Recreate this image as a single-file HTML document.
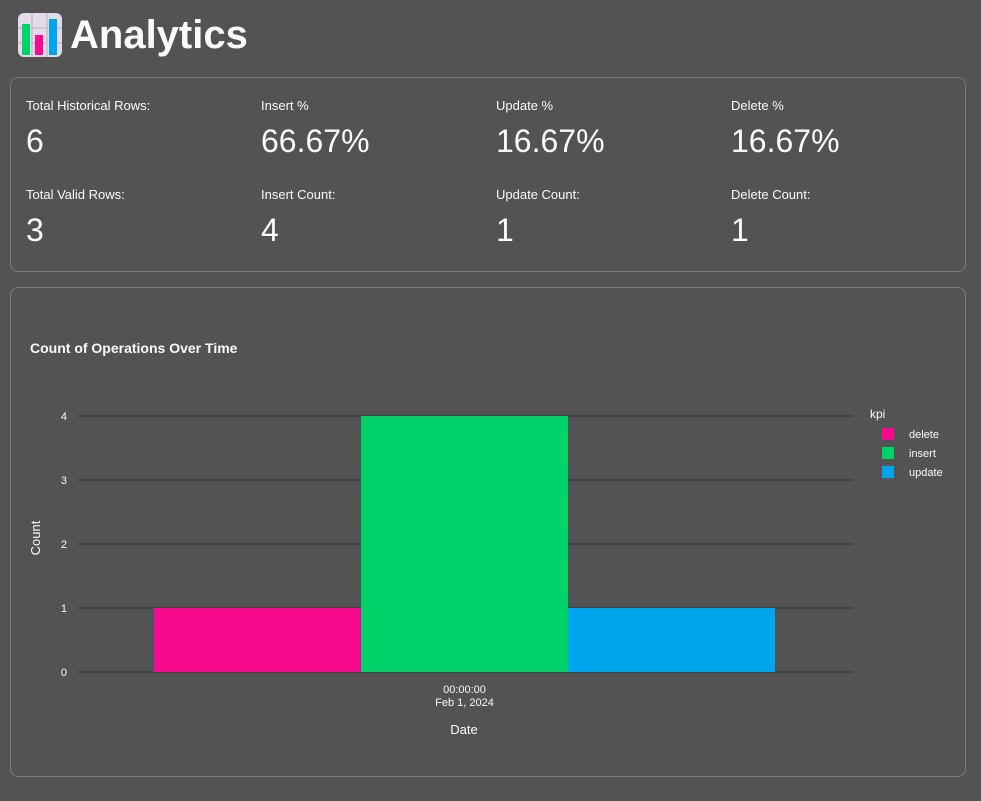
<!DOCTYPE html>
<html><head><meta charset="utf-8"><style>
body{margin:0;width:981px;height:801px;background:#535353;font-family:"Liberation Sans",sans-serif;color:#fafafa;position:relative;overflow:hidden}
.card{position:absolute;left:10px;width:954px;border:1px solid #7a7a7a;border-radius:8px}
.lbl{position:absolute;font-size:13px}
.val{position:absolute;font-size:32px}
</style></head><body>
<div style="position:absolute;left:18px;top:10px;height:50px;display:flex;align-items:center">
<svg width="44" height="44" viewBox="0 0 44 44"><rect x="0" y="0" width="44" height="44" rx="6" fill="#e3dbe9"/><path d="M14 0V44M29 0V44M0 15H44M0 30H44" stroke="#c7bfd0" stroke-width="1.5"/><rect x="4" y="11" width="8" height="31" fill="#00d26a"/><rect x="17" y="22" width="8" height="20" fill="#f70a8d"/><rect x="31" y="6" width="8" height="36" fill="#00a6ed"/></svg>
<span style="font-size:40px;font-weight:bold;margin-left:8px">Analytics</span></div>
<div class="card" style="top:77px;height:193px">
<div class="lbl" style="left:15px;top:20px">Total Historical Rows:</div><div class="val" style="left:15px;top:45px">6</div>
<div class="lbl" style="left:250px;top:20px">Insert %</div><div class="val" style="left:250px;top:45px">66.67%</div>
<div class="lbl" style="left:485px;top:20px">Update %</div><div class="val" style="left:485px;top:45px">16.67%</div>
<div class="lbl" style="left:720px;top:20px">Delete %</div><div class="val" style="left:720px;top:45px">16.67%</div>
<div class="lbl" style="left:15px;top:109px">Total Valid Rows:</div><div class="val" style="left:15px;top:134px">3</div>
<div class="lbl" style="left:250px;top:109px">Insert Count:</div><div class="val" style="left:250px;top:134px">4</div>
<div class="lbl" style="left:485px;top:109px">Update Count:</div><div class="val" style="left:485px;top:134px">1</div>
<div class="lbl" style="left:720px;top:109px">Delete Count:</div><div class="val" style="left:720px;top:134px">1</div>
</div>
<div class="card" style="top:287px;height:488px"></div>
<svg id="chart" width="981" height="801" style="position:absolute;left:0;top:0" font-family="Liberation Sans, sans-serif">
<text x="30" y="353" font-size="14" font-weight="bold" fill="#fafafa">Count of Operations Over Time</text>
</svg>
<script>
const categories=["delete","insert","update"];
const counts=[1,4,1];
const colors=["#f70a8d","#00d26a","#00a6ed"];
const yTicks=[0,1,2,3,4];
const xLabel=["00:00:00","Feb 1, 2024"];
const svg=document.getElementById('chart');
const NS="http://www.w3.org/2000/svg";
const x0=77,x1=853,yb=672,yt=416,ymax=4;
const y=v=>yb-(v/ymax)*(yb-yt);
const bw=207,gc=464.5;
const bx=i=>gc-bw*categories.length/2+i*bw;
function mk(t,a){const e=document.createElementNS(NS,t);for(const k in a)e.setAttribute(k,a[k]);svg.appendChild(e);return e;}
yTicks.forEach(v=>{
const l=mk('line',{x1:x0,x2:x1,y1:y(v),y2:y(v),stroke:'#31333f','stroke-width':1});


const t=mk('text',{x:67,y:y(v)+4,'font-size':11,fill:'#fafafa','text-anchor':'end'});t.textContent=v;


});
categories.forEach((c,i)=>{
const r=mk('rect',{x:bx(i),y:y(counts[i]),width:bw,height:yb-y(counts[i]),fill:colors[i]});


const s=mk('rect',{x:882,y:428+i*19,width:12,height:12,fill:colors[i]});


const t=mk('text',{x:909,y:438+i*19,'font-size':11,fill:'#fafafa'});t.textContent=c;


});
xLabel.forEach((s,i)=>{const t=mk('text',{x:gc,y:693+i*13,'font-size':11,fill:'#fafafa','text-anchor':'middle'});t.textContent=s;

});
let t=mk('text',{x:464,y:734,'font-size':13,fill:'#fafafa','text-anchor':'middle'});t.textContent='Date';


t=mk('text',{x:0,y:0,'font-size':13,fill:'#fafafa','text-anchor':'middle',transform:'translate(40,538) rotate(-90)'});t.textContent='Count';


t=mk('text',{x:870,y:418,'font-size':12,fill:'#fafafa'});t.textContent='kpi';


</script>
</body></html>
